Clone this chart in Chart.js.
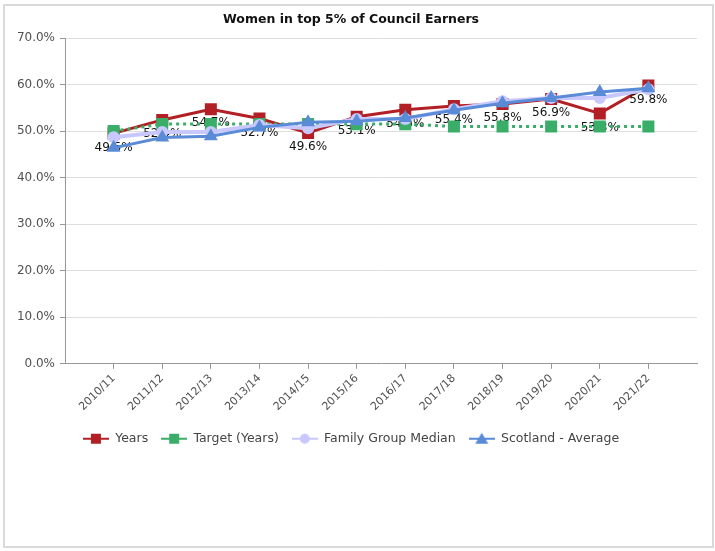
<!DOCTYPE html>
<html>
<head>
<meta charset="utf-8">
<script src="https://cdn.jsdelivr.net/npm/chart.js@4/dist/chart.umd.min.js"></script>
<style>
  body { margin: 0; background: #fff; }
  #frame {
    position: absolute; left: 3px; top: 4px;
    width: 707px; height: 540px;
    border: 2px solid #dadada;
    background: #fff;
  }
  #chart { display: block; }
</style>
</head>
<body>
<div id="frame"><canvas id="chart" width="707" height="540"></canvas></div>
<script>
var years = ['2010/11','2011/12','2012/13','2013/14','2014/15','2015/16',
             '2016/17','2017/18','2018/19','2019/20','2020/21','2021/22'];
var council  = [49.5, 52.4, 54.7, 52.7, 49.6, 53.1, 54.6, 55.4, 55.8, 56.9, 53.8, 59.8];
var target   = [50.0, 51.5, 51.5, 51.5, 51.5, 51.5, 51.5, 51.0, 51.0, 51.0, 51.0, 51.0];
var familyMedian = [48.7, 49.8, 49.8, 51.3, 50.6, 52.6, 52.6, 54.7, 56.4, 57.1, 57.1, 59.0];
var scotlandAvg  = [46.4, 48.6, 48.9, 50.8, 51.9, 52.1, 52.8, 54.5, 56.0, 57.1, 58.4, 59.2];
var yTicks = [0, 10, 20, 30, 40, 50, 60, 70];

var FONT = "'DejaVu Sans', Tahoma, sans-serif";

function points(arr) {
    return arr.map(function(v, i){ return {x: i, y: v}; });
}

// little line+marker swatch for the legend
function legendKey(color, style, dashed) {
    var c = document.createElement('canvas');
    c.width = 26; c.height = 14;
    var g = c.getContext('2d');
    g.strokeStyle = color;
    g.lineWidth = 2;
    if (dashed) g.setLineDash([2, 3]);
    g.beginPath(); g.moveTo(0, 7); g.lineTo(26, 7); g.stroke();
    g.setLineDash([]);
    g.fillStyle = color;
    g.beginPath();
    if (style === 'rect') g.rect(8, 2, 10, 10);
    else if (style === 'circle') g.arc(13, 7, 5, 0, Math.PI * 2);
    else { g.moveTo(13, 1); g.lineTo(19.5, 12); g.lineTo(6.5, 12); g.closePath(); }
    g.fill();
    return c;
}

var keys = [
    legendKey('#b21f24', 'rect'),
    legendKey('#3aae69', 'rect'),
    legendKey('#c8c8ff', 'circle'),
    legendKey('#5a8bd7', 'triangle')
];

// value labels under the "Years" points, drawn right after that series
var valueLabels = {
    id: 'valueLabels',
    afterDatasetDraw: function(chart, args) {
        if (args.index !== 0) return;
        var ctx = chart.ctx;
        ctx.save();
        ctx.font = '12px ' + FONT;
        ctx.fillStyle = '#111';
        ctx.textAlign = 'center';
        ctx.textBaseline = 'middle';
        args.meta.data.forEach(function(pt, i){
            ctx.fillText(council[i].toFixed(1) + '%', pt.x, pt.y + 14);
        });
        ctx.restore();
    }
};

var ctx = document.getElementById('chart').getContext('2d');
var chart = new Chart(ctx, {
    type: 'line',
    data: {
        datasets: [{
            label: 'Years',
            data: points(council),
            borderColor: '#b21f24', backgroundColor: '#b21f24',
            borderWidth: 3, pointStyle: 'rect', pointRadius: 8.5,
            pointBorderWidth: 0, order: 4
        }, {
            label: 'Target (Years)',
            data: points(target),
            borderColor: '#3aae69', backgroundColor: '#3aae69',
            borderWidth: 3, borderDash: [3, 4], pointStyle: 'rect', pointRadius: 8.5,
            pointBorderWidth: 0, order: 3
        }, {
            label: 'Family Group Median',
            data: points(familyMedian),
            borderColor: '#c8c8ff', backgroundColor: '#c8c8ff',
            borderWidth: 4, pointStyle: 'circle', pointRadius: 6,
            pointBorderWidth: 0, order: 2
        }, {
            label: 'Scotland - Average',
            data: points(scotlandAvg),
            borderColor: '#5a8bd7', backgroundColor: '#5a8bd7',
            borderWidth: 3, pointStyle: 'triangle', pointRadius: 8,
            pointBorderWidth: 0, order: 1
        }]
    },
    options: {
        responsive: false,
        animation: false,
        layout: { padding: { left: 0, right: 15, top: 0, bottom: 91 } },
        scales: {
            x: {
                type: 'linear', min: -1, max: 12,
                afterBuildTicks: function(scale){
                    scale.ticks = years.map(function(y, i){ return {value: i}; });
                },
                afterFit: function(scale){ scale.height += 3; },
                grid: { drawOnChartArea: false, color: '#999', tickLength: 5 },
                border: { color: '#999' },
                ticks: {
                    autoSkip: false, minRotation: 45, maxRotation: 45,
                    color: '#505050', font: { family: FONT, size: 11 },
                    callback: function(v){ return years[v] || ''; }
                }
            },
            y: {
                min: 0, max: 70,
                afterBuildTicks: function(scale){
                    scale.ticks = yTicks.map(function(v){ return {value: v}; });
                },
                afterFit: function(scale){ scale.width = 60; },
                grid: { color: '#dedede', tickColor: '#999', tickLength: 5 },
                border: { color: '#999' },
                ticks: {
                    padding: 5, color: '#505050', font: { family: FONT, size: 12 },
                    callback: function(v){ return v.toFixed(1) + '%'; }
                }
            }
        },
        plugins: {
            title: {
                display: true,
                text: 'Women in top 5% of Council Earners',
                color: '#111',
                font: { family: FONT, size: 12.5, weight: 'bold' },
                padding: { top: 6, bottom: 11 }
            },
            legend: {
                position: 'bottom',
                labels: {
                    usePointStyle: true, pointStyleWidth: 26,
                    color: '#444', font: { family: FONT, size: 12.5 },
                    padding: 13,
                    sort: function(a, b){ return a.datasetIndex - b.datasetIndex; },
                    generateLabels: function(chart){
                        var items = Chart.defaults.plugins.legend.labels.generateLabels(chart);
                        items.forEach(function(it){ it.pointStyle = keys[it.datasetIndex]; });
                        return items;
                    }
                }
            },
            tooltip: { enabled: false }
        }
    },
    plugins: [valueLabels]
});
</script>
</body>
</html>
